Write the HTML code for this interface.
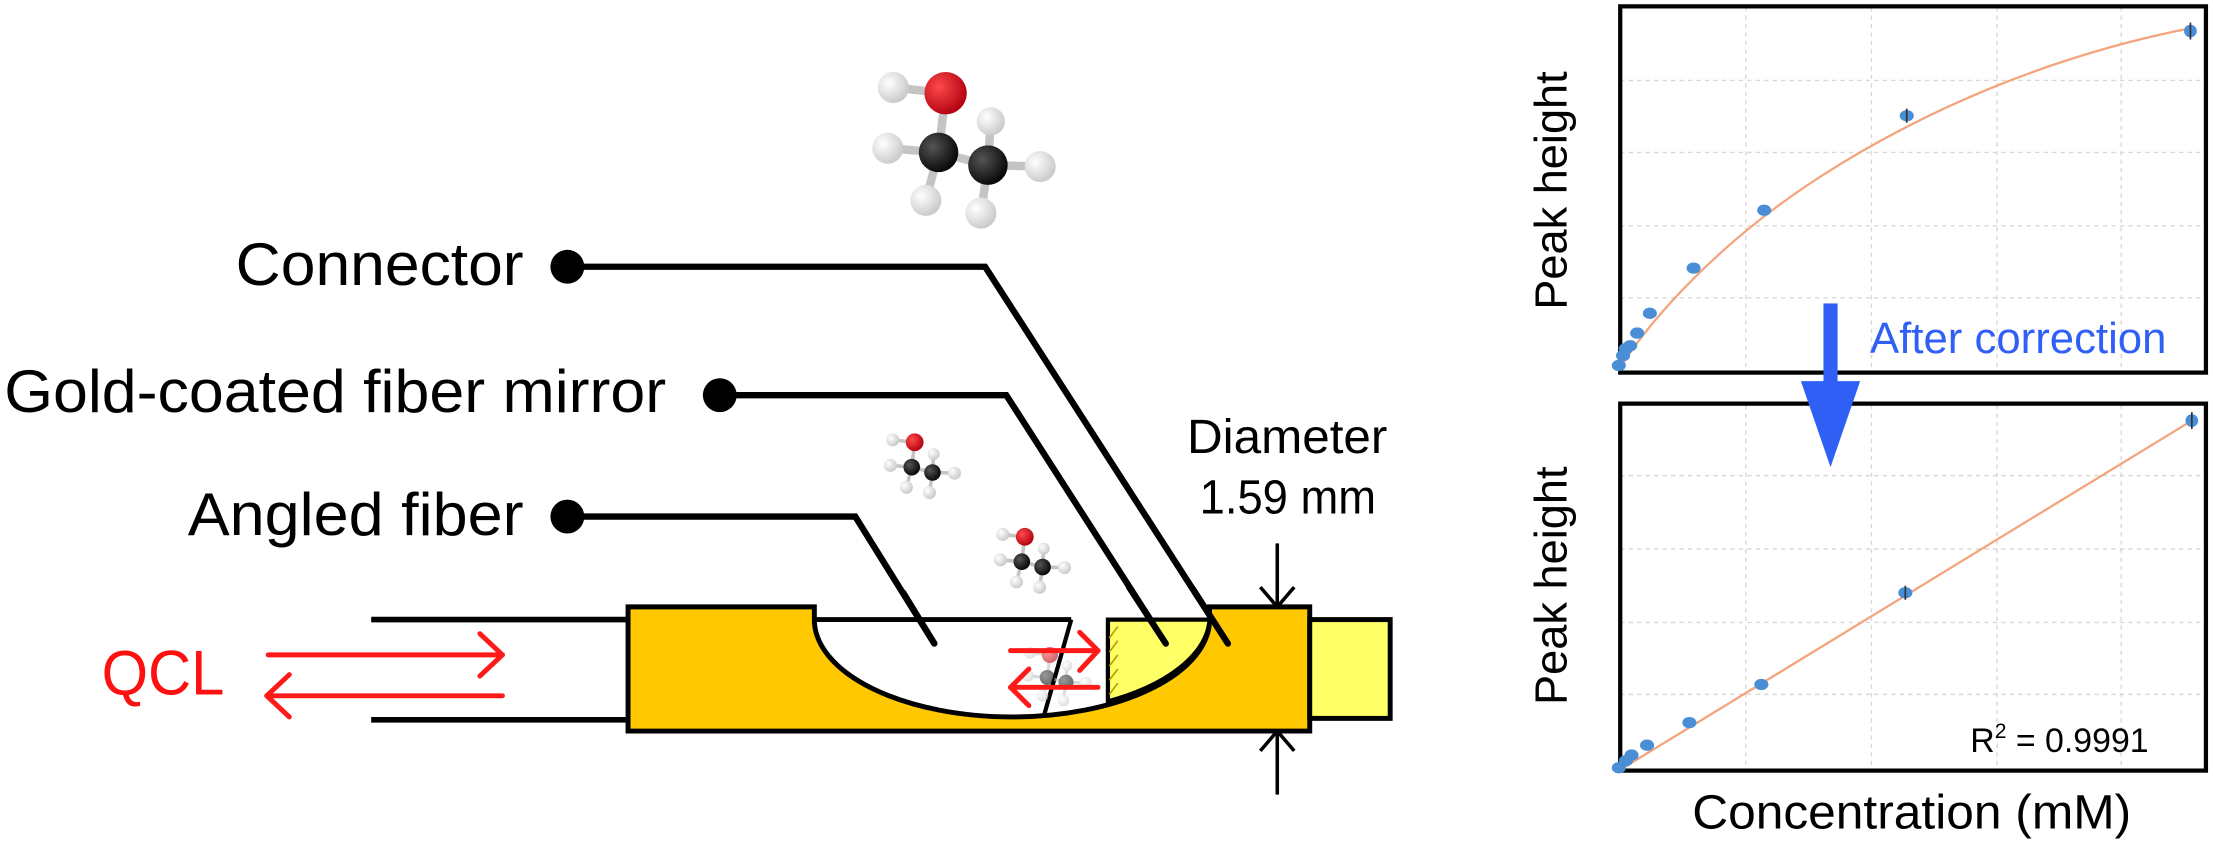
<!DOCTYPE html>
<html><head><meta charset="utf-8"><style>html,body{margin:0;padding:0;background:#fff}svg{display:block}</style></head>
<body>
<svg width="2213" height="843" viewBox="0 0 1568 597.3" preserveAspectRatio="none" xmlns="http://www.w3.org/2000/svg" font-family="Liberation Sans, Arial, sans-serif">
<defs>
<radialGradient id="gh" cx="0.35" cy="0.35" r="0.7"><stop offset="0" stop-color="#ffffff"/><stop offset="1" stop-color="#c8c8c8"/></radialGradient>
<radialGradient id="go" cx="0.35" cy="0.35" r="0.7"><stop offset="0" stop-color="#ff4a4a"/><stop offset="1" stop-color="#b00010"/></radialGradient>
<radialGradient id="gc" cx="0.35" cy="0.35" r="0.7"><stop offset="0" stop-color="#555"/><stop offset="1" stop-color="#050505"/></radialGradient>
<g id="mol">
<g stroke="#c4c4c4" stroke-width="6" stroke-linecap="round">
<line x1="0" y1="0" x2="5" y2="-42"/><line x1="5" y1="-42" x2="-32" y2="-46"/><line x1="0" y1="0" x2="35" y2="9"/>
<line x1="0" y1="0" x2="-36" y2="-3"/><line x1="0" y1="0" x2="-9" y2="34"/><line x1="35" y1="9" x2="30" y2="43"/>
<line x1="35" y1="9" x2="37" y2="-22"/><line x1="35" y1="9" x2="72" y2="10"/></g>
<g fill="url(#gh)">
<circle cx="-32" cy="-46" r="11"/><circle cx="-36" cy="-3" r="11"/><circle cx="-9" cy="34" r="11"/><circle cx="30" cy="43" r="11"/><circle cx="37" cy="-22" r="10"/><circle cx="72" cy="10" r="11"/></g>
<circle cx="5" cy="-42" r="15" fill="url(#go)"/>
<circle cx="0" cy="0" r="14" fill="url(#gc)"/><circle cx="35" cy="9" r="14" fill="url(#gc)"/>
</g>
</defs>

<!-- molecules -->
<use href="#mol" transform="translate(665,108)"/>
<use href="#mol" transform="translate(646,331) scale(0.42)"/>
<use href="#mol" transform="translate(724,398) scale(0.42)"/>

<!-- labels -->
<g font-size="43" fill="#000">
<text x="167" y="202" textLength="204" lengthAdjust="spacingAndGlyphs">Connector</text>
<text x="3" y="292" textLength="469" lengthAdjust="spacingAndGlyphs">Gold-coated fiber mirror</text>
<text x="133" y="379" textLength="238" lengthAdjust="spacingAndGlyphs">Angled fiber</text>
</g>
<g fill="#000"><circle cx="402" cy="189" r="12"/><circle cx="510" cy="280" r="12"/><circle cx="402" cy="366" r="12"/></g>
<g fill="none" stroke="#000" stroke-width="4.5" stroke-linejoin="miter">
<polyline points="402,189 698,189 870,456"/>
<polyline points="510,280 713,280 826,456"/>
<polyline points="402,366 606,366 662,456"/>
</g>

<!-- Diameter -->
<text x="841" y="321" font-size="34" textLength="142" lengthAdjust="spacingAndGlyphs">Diameter</text>
<text x="850" y="364" font-size="34" textLength="125" lengthAdjust="spacingAndGlyphs">1.59 mm</text>
<g stroke="#000" stroke-width="2.5" fill="none">
<line x1="905" y1="385" x2="905" y2="430"/><polyline points="893,416 905,430 917,416"/>
<line x1="905" y1="518" x2="905" y2="563"/><polyline points="893,532 905,518 917,532"/>
</g>

<!-- fiber -->
<g stroke="#000" stroke-width="4">
<line x1="263" y1="439" x2="447" y2="439"/><line x1="263" y1="510" x2="447" y2="510"/>
</g>
<text x="72" y="492" font-size="45" fill="#ff1010" textLength="87" lengthAdjust="spacingAndGlyphs">QCL</text>
<g stroke="#ff1a1a" stroke-width="3.5" fill="none" stroke-linecap="round" stroke-linejoin="round">
<line x1="190" y1="464" x2="356" y2="464"/><polyline points="340,449 356,464 340,479"/>
<line x1="356" y1="493" x2="189" y2="493"/><polyline points="205,478 189,493 205,508"/>
</g>

<!-- cell -->
<path d="M445,430 H577 V439 A140,69 0 0 0 857,439 V430 H928 V518 H445 Z" fill="#ffc800" stroke="#000" stroke-width="3.5" stroke-linejoin="miter"/>
<path d="M785,439 H857 A140,69 0 0 1 785,497 Z" fill="#ffff66" stroke="#000" stroke-width="3"/>
<g stroke="#b8a000" stroke-width="1.2">
<line x1="786" y1="452" x2="792" y2="444"/><line x1="786" y1="462" x2="792" y2="454"/><line x1="786" y1="472" x2="792" y2="464"/><line x1="786" y1="482" x2="792" y2="474"/><line x1="786" y1="492" x2="792" y2="484"/>
</g>
<rect x="928" y="439" width="57" height="70" fill="#ffff66" stroke="#000" stroke-width="3.5"/>
<line x1="577" y1="439" x2="759" y2="439" stroke="#000" stroke-width="3.5"/>
<line x1="759" y1="439" x2="740" y2="506" stroke="#000" stroke-width="3"/>
<g opacity="0.6"><use href="#mol" transform="translate(742,480) scale(0.38)"/></g>
<g stroke="#ff1a1a" stroke-width="3.5" fill="none" stroke-linecap="round" stroke-linejoin="round">
<line x1="716" y1="461" x2="778" y2="461"/><polyline points="765,448 778,461 765,475"/>
<line x1="778" y1="487" x2="716" y2="487"/><polyline points="729,474 716,487 729,500"/>
</g>
<!-- re-draw leader tips over cell -->
<g stroke="#000" stroke-width="4.5" stroke-linecap="round">
<line x1="845" y1="417" x2="870" y2="456"/><line x1="800" y1="416" x2="826" y2="456"/><line x1="640" y1="420" x2="662" y2="456"/>
</g>

<!-- charts -->
<g stroke="#d8d8d8" stroke-width="1" stroke-dasharray="3,3">
<line x1="1237" y1="5" x2="1237" y2="264"/><line x1="1326" y1="5" x2="1326" y2="264"/><line x1="1415" y1="5" x2="1415" y2="264"/><line x1="1503" y1="5" x2="1503" y2="264"/>
<line x1="1148" y1="57" x2="1563" y2="57"/><line x1="1148" y1="108" x2="1563" y2="108"/><line x1="1148" y1="160" x2="1563" y2="160"/><line x1="1148" y1="211" x2="1563" y2="211"/>
<line x1="1237" y1="287" x2="1237" y2="546"/><line x1="1326" y1="287" x2="1326" y2="546"/><line x1="1415" y1="287" x2="1415" y2="546"/><line x1="1503" y1="287" x2="1503" y2="546"/>
<line x1="1148" y1="337" x2="1563" y2="337"/><line x1="1148" y1="389" x2="1563" y2="389"/><line x1="1148" y1="441" x2="1563" y2="441"/><line x1="1148" y1="492" x2="1563" y2="492"/>
</g>
<rect x="1148" y="4.5" width="415" height="259.5" fill="none" stroke="#000" stroke-width="3"/>
<rect x="1148" y="286" width="415" height="260" fill="none" stroke="#000" stroke-width="3"/>
<path d="M1147,262 C1170,225 1220,170 1290,125 S1450,40 1552,20" fill="none" stroke="#f4a47c" stroke-width="1.6"/>
<line x1="1147" y1="546" x2="1553" y2="298" stroke="#f4a47c" stroke-width="1.6"/>
<g fill="#4a8fd6">
<ellipse cx="1147" cy="259" rx="5" ry="4"/><ellipse cx="1150" cy="252" rx="5" ry="4"/><ellipse cx="1152" cy="247" rx="5" ry="4"/><ellipse cx="1155" cy="245" rx="5" ry="4"/><ellipse cx="1160" cy="236" rx="5" ry="4"/><ellipse cx="1169" cy="222" rx="5" ry="4"/><ellipse cx="1200" cy="190" rx="5" ry="4"/><ellipse cx="1250" cy="149" rx="5" ry="4"/><ellipse cx="1351" cy="82" rx="5" ry="4"/><ellipse cx="1552" cy="22" rx="4.5" ry="4.5"/>
<ellipse cx="1147" cy="544" rx="5" ry="4"/><ellipse cx="1152" cy="539" rx="5" ry="4"/><ellipse cx="1156" cy="535" rx="5" ry="4"/><ellipse cx="1167" cy="528" rx="5" ry="4"/><ellipse cx="1197" cy="512" rx="5" ry="4"/><ellipse cx="1248" cy="485" rx="5" ry="4"/><ellipse cx="1350" cy="420" rx="5" ry="4"/><ellipse cx="1553" cy="298" rx="4.5" ry="4.5"/>
</g>
<g stroke="#333" stroke-width="1.2"><line x1="1351" y1="77" x2="1351" y2="87"/><line x1="1552" y1="16" x2="1552" y2="28"/><line x1="1350" y1="415" x2="1350" y2="425"/><line x1="1553" y1="292" x2="1553" y2="304"/></g>

<!-- arrow -->
<rect x="1292" y="215" width="10" height="57" fill="#2f5ff5"/>
<polygon points="1276,270 1318,270 1297,331" fill="#2f5ff5"/>
<text x="1325" y="250" font-size="31" fill="#2f5ff5" textLength="210" lengthAdjust="spacingAndGlyphs">After correction</text>
<text x="1396" y="533" font-size="24">R<tspan font-size="15" dy="-10">2</tspan><tspan dy="10"> = 0.9991</tspan></text>
<text x="1199" y="587" font-size="34" textLength="311" lengthAdjust="spacingAndGlyphs">Concentration (mM)</text>
<text transform="translate(1110,135) rotate(-90)" text-anchor="middle" font-size="32">Peak height</text>
<text transform="translate(1110,415) rotate(-90)" text-anchor="middle" font-size="32">Peak height</text>
</svg>
</body></html>
